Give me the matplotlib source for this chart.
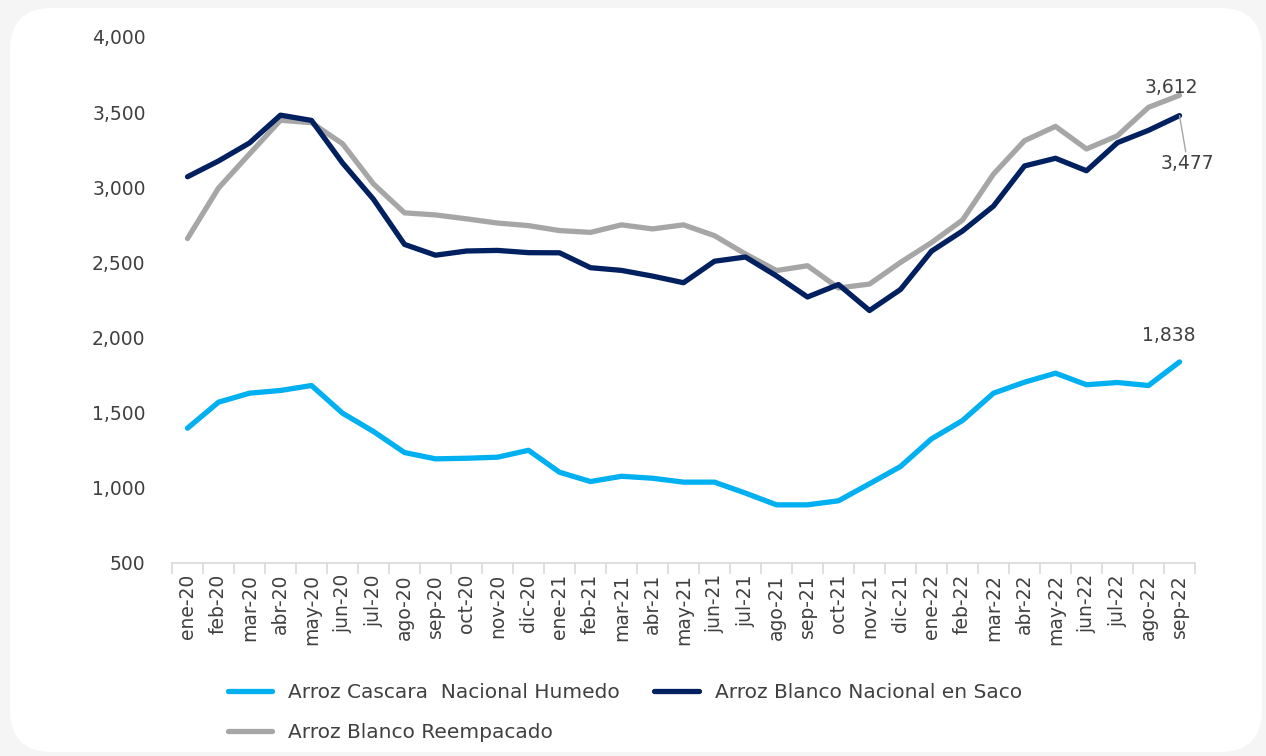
import matplotlib
matplotlib.use("Agg")
import matplotlib.pyplot as plt
from matplotlib.patches import FancyBboxPatch
from matplotlib.ticker import FixedLocator

months = ["ene-20", "feb-20", "mar-20", "abr-20", "may-20", "jun-20", "jul-20",
          "ago-20", "sep-20", "oct-20", "nov-20", "dic-20", "ene-21", "feb-21",
          "mar-21", "abr-21", "may-21", "jun-21", "jul-21", "ago-21", "sep-21",
          "oct-21", "nov-21", "dic-21", "ene-22", "feb-22", "mar-22", "abr-22",
          "may-22", "jun-22", "jul-22", "ago-22", "sep-22"]

cascara = [1397, 1570, 1630, 1648, 1681, 1497, 1375, 1235, 1193, 1197, 1204,
           1250, 1104, 1042, 1077, 1064, 1038, 1038, 965, 887, 887, 914, 1027,
           1142, 1326, 1448, 1630, 1703, 1763, 1686, 1701, 1681, 1838]
blanco_saco = [3070, 3175, 3295, 3480, 3445, 3162, 2920, 2620, 2548, 2576,
               2580, 2565, 2564, 2465, 2447, 2409, 2365, 2508, 2536, 2410,
               2270, 2353, 2180, 2320, 2575, 2709, 2875, 3142, 3193, 3110,
               3297, 3379, 3477]
reempacado = [2659, 2995, 3222, 3446, 3430, 3290, 3022, 2830, 2816, 2790,
              2762, 2745, 2712, 2700, 2750, 2723, 2750, 2678, 2556, 2446,
              2478, 2330, 2356, 2500, 2632, 2782, 3088, 3310, 3405, 3255,
              3343, 3532, 3612]

TXT = "#404040"
plt.rcParams["font.family"] = ["DejaVu Sans"]

fig = plt.figure(figsize=(12.66, 7.56), dpi=100)
fig.patch.set_facecolor("#f5f5f5")

# white rounded card behind the chart
bg = fig.add_axes([0, 0, 1, 1], zorder=0)
bg.set_xlim(0, 1266); bg.set_ylim(756, 0); bg.axis("off")
bg.add_patch(FancyBboxPatch((10, 8), 1252, 744,
                            boxstyle="round,pad=0,rounding_size=42",
                            fc="white", ec="none"))

ax = fig.add_axes([172 / 1266, 1 - 563 / 756, 1023 / 1266, 526 / 756], zorder=1)
ax.set_facecolor("none")
x = range(len(months))
kw = dict(lw=3.8, solid_capstyle="round", solid_joinstyle="round")
l1, = ax.plot(x, cascara, color="#00B0F0", label="Arroz Cascara  Nacional Humedo", **kw)
l3, = ax.plot(x, reempacado, color="#A6A6A6", label="Arroz Blanco Reempacado", **kw)
l2, = ax.plot(x, blanco_saco, color="#002060", label="Arroz Blanco Nacional en Saco", **kw)

ax.set_xlim(-0.5, len(months) - 0.5)
ax.set_ylim(500, 4000)
ax.set_yticks(range(500, 4001, 500))
ax.set_yticklabels([f"{v:,}" for v in range(500, 4001, 500)])
ax.set_xticks(list(x))
ax.set_xticklabels(months, rotation=90)
ax.xaxis.set_minor_locator(FixedLocator([i - 0.5 for i in range(len(months) + 1)]))
ax.tick_params(axis="x", which="major", length=0, pad=8, labelsize=13.5, labelcolor=TXT)
ax.tick_params(axis="x", which="minor", length=8, color="#d9d9d9", width=1.2)
ax.tick_params(axis="y", length=0, pad=19, labelsize=13.5, labelcolor=TXT)
for s in ["left", "right", "top"]:
    ax.spines[s].set_visible(False)
ax.spines["bottom"].set_color("#d9d9d9")
ax.spines["bottom"].set_linewidth(1.2)

last = len(months) - 1
ax.annotate(f"{reempacado[-1]:,}", (last, reempacado[-1]), xytext=(-6, -1),
            textcoords="offset points", ha="center", va="bottom",
            fontsize=13.5, color=TXT)
ax.annotate(f"{blanco_saco[-1]:,}", (last, blanco_saco[-1]), xytext=(6, -28),
            textcoords="offset points", ha="center", va="top",
            fontsize=13.5, color=TXT,
            arrowprops=dict(arrowstyle="-", color="#A6A6A6", lw=1,
                            shrinkA=0, shrinkB=0))
ax.annotate(f"{cascara[-1]:,}", (last, cascara[-1]), xytext=(-8, 12),
            textcoords="offset points", ha="center", va="bottom",
            fontsize=13.5, color=TXT)

leg = fig.legend([l1, l3, l2], [l1.get_label(), l3.get_label(), l2.get_label()],
                 ncol=2, loc="upper left", bbox_to_anchor=(218 / 1266, 1 - 673 / 756),
                 frameon=False, fontsize=14.5, handlelength=2.2, handletextpad=0.8,
                 columnspacing=1.7, labelspacing=1.05, borderpad=0, labelcolor=TXT)

fig.savefig("out.png", dpi=100, facecolor=fig.get_facecolor())
